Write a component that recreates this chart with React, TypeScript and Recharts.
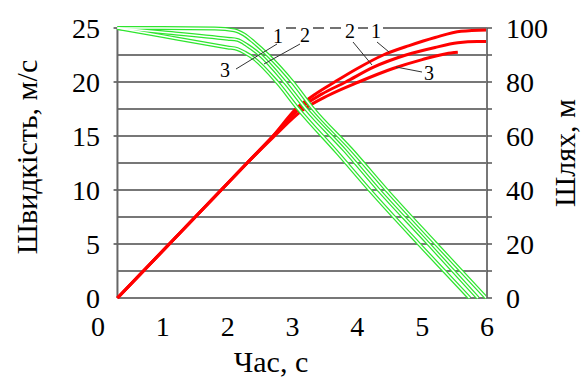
import React from "react";
import { LineChart, Line, XAxis, YAxis, ReferenceLine } from "recharts";

// швидкість, м/с (три варіанти)
const speed1T = [0.3, 1.0, 1.8, 2.1, 2.25, 2.4, 2.62, 3.0, 3.32, 3.9, 4.45, 5.2, 5.99];
const speed1V = [25, 25, 24.95, 24.8, 24.4, 23.7, 22.5, 20, 17.5, 13.8, 10, 5.1, 0];
const speed2T = [0.3, 1.0, 2.0, 2.15, 2.3, 2.5, 2.88, 3.21, 3.8, 4.33, 5.1, 5.86];
const speed2V = [25, 24.6, 24.0, 23.9, 23.4, 22.5, 20, 17.5, 13.7, 10, 5, 0];
const speed3T = [0.3, 1.0, 2.0, 2.15, 2.27, 2.4, 2.76, 3.09, 3.7, 4.19, 4.95, 5.73];
const speed3V = [25, 24.25, 23.2, 23.05, 22.7, 22.2, 20, 17.5, 13.4, 10, 5, 0];

// шлях, м
const dist1T = [0.3, 1.0, 1.5, 2.0, 2.3, 2.7, 3.05, 3.35, 3.65, 4.0, 4.4, 4.8, 5.2, 5.6, 6.0];
const dist1S = [0, 17.5, 30, 42.5, 50, 60, 70, 75.5, 80, 85, 90, 93.5, 96.5, 98.8, 99.3];
const dist2T = [0.3, 1.0, 1.5, 2.0, 2.3, 2.7, 3.1, 3.45, 3.82, 4.25, 4.75, 5.2, 5.55, 5.85, 6.0];
const dist2S = [0, 17.5, 30, 42.5, 50, 60, 70, 75.5, 80, 85.5, 90, 92.8, 94.5, 95, 95];
const dist3T = [0.3, 1.0, 1.5, 2.0, 2.3, 2.7, 3.15, 3.55, 4.02, 4.55, 5.0, 5.37, 5.55];
const dist3S = [0, 17.5, 30, 42.5, 50, 59.5, 69.5, 75, 80, 85, 88.3, 90.5, 91];

const xTicks = [0, 1, 2, 3, 4, 5, 6];
const speedTicks = [0, 5, 10, 15, 20, 25];
const distTicks = [0, 10, 20, 30, 40, 50, 60, 70, 80, 90, 100];
const gridLevels = [0, 2.5, 5, 7.5, 10, 12.5, 15, 17.5, 20, 22.5, 25];

const zip = (ts: number[], vs: number[]) => ts.map((t, i) => ({ t, v: vs[i] }));

const speeds = [zip(speed1T, speed1V), zip(speed2T, speed2V), zip(speed3T, speed3V)];
const dists = [zip(dist1T, dist1S), zip(dist2T, dist2S), zip(dist3T, dist3S)];

const FONT = "'Liberation Serif', 'Times New Roman', serif";
const GREEN = "#2ee52e";
const RED = "#ff0000";
const TICK_SIZE = 28;
const tickStyle = { fontFamily: FONT, fontSize: TICK_SIZE, fill: "#000" };

const renderXTick = (p: any) => (
  <text x={p.x} y={p.y} dy="0.71em" textAnchor="middle" style={tickStyle}>
    {p.payload.value}
  </text>
);

const renderLeftTick = (p: any) => (
  <text x={p.x} y={p.y} dy="0.35em" textAnchor="end" style={tickStyle}>
    {p.payload.value}
  </text>
);

const renderRightTick = (p: any) =>
  p.payload.value % 20 === 0 ? (
    <text x={p.x} y={p.y} dy="0.35em" textAnchor="start" style={tickStyle}>
      {p.payload.value}
    </text>
  ) : (
    <g />
  );

export default function App() {
  return (
    <div
      style={{
        position: "absolute",
        left: 0,
        top: 0,
        width: 581,
        height: 379,
        background: "#fff",
        fontFamily: FONT,
      }}
    >
      <LineChart
        width={581}
        height={379}
        margin={{ top: 28, right: 34, bottom: 41, left: 38 }}
        style={{ fontFamily: FONT }}
      >
        <XAxis
          type="number"
          dataKey="t"
          domain={[0, 6]}
          ticks={xTicks}
          axisLine={false}
          tickLine={false}
          tickSize={0}
          tickMargin={18}
          height={40}
          tick={renderXTick}
          allowDuplicatedCategory={false}
        />
        <YAxis
          yAxisId="v"
          domain={[0, 25]}
          ticks={speedTicks}
          axisLine={false}
          tickLine={false}
          tickSize={0}
          tickMargin={-2}
          width={60}
          tick={renderLeftTick}
        />
        <YAxis
          yAxisId="s"
          orientation="right"
          domain={[0, 100]}
          ticks={distTicks}
          axisLine={{ stroke: "#777", strokeWidth: 2 }}
          tickLine={{ stroke: "#555", strokeWidth: 1.5 }}
          tickSize={5}
          tickMargin={14}
          width={60}
          tick={renderRightTick}
        />
        {gridLevels.map((g) => (
          <ReferenceLine
            key={g}
            yAxisId="v"
            segment={[
              { x: g % 5 === 0 && g > 0 ? 0.24 : 0.3, y: g },
              { x: 6, y: g },
            ]}
            stroke="#4a4a4a"
            strokeWidth={1.5}
          />
        ))}
        <ReferenceLine yAxisId="v" x={0.3} stroke="#666" strokeWidth={2} />
        {dists.map((d, i) => (
          <Line
            key={"d" + i}
            yAxisId="s"
            data={d}
            dataKey="v"
            type="monotone"
            stroke={RED}
            strokeWidth={3}
            dot={false}
            isAnimationActive={false}
          />
        ))}
        {speeds.map((d, i) => (
          <Line
            key={"g" + i}
            yAxisId="v"
            data={d}
            dataKey="v"
            type="monotone"
            stroke={GREEN}
            strokeWidth={4}
            dot={false}
            isAnimationActive={false}
          />
        ))}
        {speeds.map((d, i) => (
          <Line
            key={"w" + i}
            yAxisId="v"
            data={d}
            dataKey="v"
            type="monotone"
            stroke="#ffffff"
            strokeWidth={1.5}
            dot={false}
            isAnimationActive={false}
          />
        ))}
      </LineChart>

      {/* підписи осей та позначки кривих */}
      <svg
        width={581}
        height={379}
        style={{ position: "absolute", left: 0, top: 0, pointerEvents: "none", fontFamily: FONT }}
      >
        <text x={271} y={372} fontSize={30} textAnchor="middle" fill="#000">
          Час, с
        </text>
        <text
          transform="translate(37,157) rotate(-90)"
          fontSize={30}
          textAnchor="middle"
          fill="#000"
        >
          Швидкість, м/с
        </text>
        <text
          transform="translate(575,153) rotate(-90)"
          fontSize={30}
          textAnchor="middle"
          fill="#000"
        >
          Шлях, м
        </text>

        <rect x={264} y={24} width={119} height={8} fill="#fff" />
        <g stroke="#444" strokeWidth={1.5}>
          <line x1={286} y1={28} x2={296} y2={28} />
          <line x1={313} y1={28} x2={324} y2={28} />
          <line x1={330} y1={28} x2={341} y2={28} />
          <line x1={358} y1={28} x2={368} y2={28} />
        </g>
        <g stroke="#333" strokeWidth={1}>
          <line x1={236} y1={69} x2={277} y2={44} />
          <line x1={300} y1={44} x2={264} y2={64} />
          <line x1={353} y1={42} x2={372} y2={65} />
          <line x1={377} y1={42} x2={389} y2={52} />
          <line x1={396} y1={67} x2={422} y2={72} />
        </g>
        <g fontSize={20} fill="#000" textAnchor="middle">
          <text x={278} y={43}>1</text>
          <text x={305} y={42}>2</text>
          <text x={350} y={38}>2</text>
          <text x={376} y={38}>1</text>
          <text x={225} y={77}>3</text>
          <text x={429} y={80}>3</text>
        </g>
      </svg>
    </div>
  );
}
